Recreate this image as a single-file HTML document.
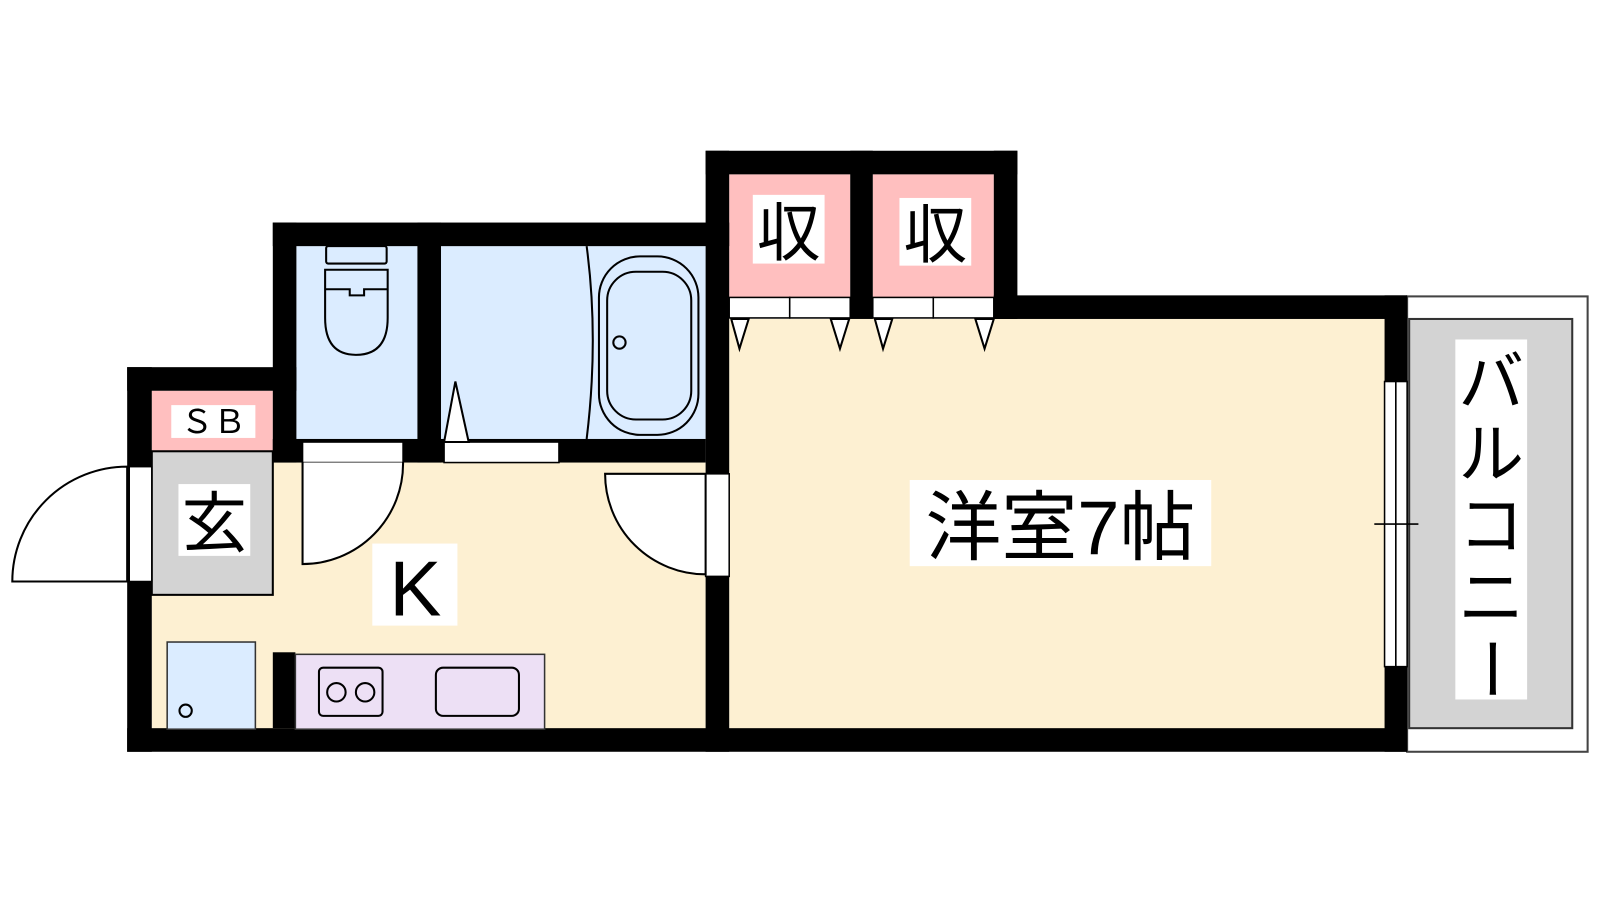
<!DOCTYPE html>
<html><head><meta charset="utf-8"><style>
html,body{margin:0;padding:0;background:#fff;}
svg{display:block;}
text{font-family:"Liberation Sans","Noto Sans CJK JP",sans-serif;fill:#000;}
</style></head><body>
<svg width="1600" height="900" viewBox="0 0 1600 900" xmlns="http://www.w3.org/2000/svg">
<g transform="scale(1.0256)">
<!-- floors -->
<rect x="148" y="451" width="540" height="260" fill="#fdf0d2"/>
<rect x="711" y="311" width="640" height="400" fill="#fdf0d2"/>
<rect x="148" y="381" width="118" height="59" fill="#ffbfbf"/>
<rect x="148" y="440" width="118" height="140" fill="#d3d3d3" stroke="#000" stroke-width="2"/>
<rect x="289" y="240" width="118" height="190" fill="#dbecff"/>
<rect x="430" y="240" width="258" height="190" fill="#dbecff"/>
<rect x="711" y="170" width="118" height="120" fill="#ffbfbf"/>
<rect x="851" y="170" width="118" height="120" fill="#ffbfbf"/>
<!-- balcony -->
<rect x="1372" y="289" width="176" height="444" fill="#fff" stroke="#444" stroke-width="2"/>
<rect x="1374" y="311" width="159" height="399" fill="#d3d3d3" stroke="#333" stroke-width="2"/>
<!-- walls -->
<g fill="#000">
<rect x="124" y="358" width="24" height="375"/>
<rect x="124" y="358" width="165" height="23"/>
<rect x="266" y="217" width="23" height="234"/>
<rect x="266" y="217" width="445" height="23"/>
<rect x="407" y="217" width="23" height="234"/>
<rect x="688" y="147" width="23" height="586"/>
<rect x="688" y="147" width="304" height="23"/>
<rect x="829" y="147" width="22" height="164"/>
<rect x="969" y="147" width="23" height="164"/>
<rect x="969" y="288" width="403" height="23"/>
<rect x="1350" y="288" width="22" height="445"/>
<rect x="124" y="710" width="1248" height="23"/>
<rect x="266" y="428" width="422" height="23"/>
<rect x="266" y="636" width="22" height="74"/>
</g>
<!-- openings -->
<g fill="#fff" stroke="#000" stroke-width="1.5">
<rect x="295" y="431" width="98" height="20"/>
<rect x="433" y="431" width="112" height="20"/>
<rect x="126" y="455" width="22" height="112"/>
<rect x="688" y="462" width="23" height="100"/>
<rect x="1350" y="372" width="11" height="278"/>
<rect x="1361" y="372" width="11" height="278"/>
<rect x="711" y="290" width="59" height="20"/><rect x="770" y="290" width="59" height="20"/>
<rect x="851" y="290" width="59" height="20"/><rect x="910" y="290" width="59" height="20"/>
</g>
<g fill="#fff" stroke="#000" stroke-width="2">
<path d="M12,567 A112,112 0 0 1 124,455 L124,567 Z"/>
<path d="M295,451 L295,550 A98,98 0 0 0 393,451"/>
<path d="M590,462 A98,98 0 0 0 688,560 L688,462 Z"/>
<path d="M713,311 L721,340 L730,311 Z"/><path d="M810,311 L819,340 L828,311 Z"/>
<path d="M853,311 L861,340 L870,311 Z"/><path d="M951,311 L960,340 L969,311 Z"/>
<path d="M433,431 L444,372 L457,431 Z"/>
</g>
<line x1="1340" y1="511" x2="1383" y2="511" stroke="#000" stroke-width="1.5"/>
<!-- toilet & bath -->
<g fill="none" stroke="#000" stroke-width="2">
<rect x="318" y="240" width="59" height="17" rx="2"/>
<path d="M317,263 H378 V310 Q378,346 347,346 Q317,346 317,310 Z"/>
<path d="M317,282 H341 V288 H355 V282 H378"/>
<path d="M572,240 Q584,330 572,428"/>
<rect x="584" y="250" width="97" height="174" rx="40"/>
<rect x="592" y="265" width="82" height="144" rx="28"/>
<circle cx="604" cy="334" r="6"/>
</g>
<!-- kitchen -->
<rect x="163" y="626" width="86" height="85" fill="#dbecff" stroke="#333" stroke-width="1.5"/>
<circle cx="181" cy="693" r="6" fill="none" stroke="#000" stroke-width="2"/>
<rect x="288" y="638" width="243" height="73" fill="#ede0f5" stroke="#333" stroke-width="1.5"/>
<g fill="none" stroke="#000" stroke-width="2">
<rect x="311" y="651" width="62" height="47" rx="4"/>
<circle cx="328" cy="675" r="9"/><circle cx="356" cy="675" r="9"/>
<rect x="425" y="651" width="81" height="47" rx="7"/>
</g>
<!-- labels -->
<g fill="#fff">
<rect x="167" y="395" width="82" height="32"/>
<rect x="174" y="472" width="70" height="70"/>
<rect x="363" y="530" width="83" height="80"/>
<rect x="734" y="190" width="70" height="67"/>
<rect x="877" y="193" width="70" height="66"/>
<rect x="887" y="468" width="294" height="84"/>
<rect x="1419" y="331" width="70" height="351"/>
</g>
<text x="208" y="422" font-size="32" text-anchor="middle">ＳＢ</text>
<text x="209" y="533" font-size="64" text-anchor="middle">玄</text>
<text x="405" y="600" font-size="76" text-anchor="middle">K</text>
<text x="769" y="249" font-size="62" text-anchor="middle">収</text>
<text x="912" y="251" font-size="62" text-anchor="middle">収</text>
<text x="1034" y="540" font-size="74" text-anchor="middle">洋室7帖</text>
<g font-size="64" text-anchor="middle">
<text x="1454" y="395">バ</text>
<text x="1454" y="465">ル</text>
<text x="1454" y="535">コ</text>
<text x="1454" y="605">ニ</text>
<text x="1454" y="675" transform="rotate(90 1454 652)">ー</text>
</g>
</g>
</svg>
</body></html>
